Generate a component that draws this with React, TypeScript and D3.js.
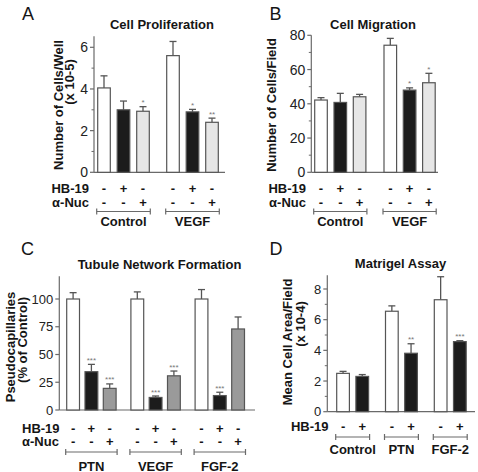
import React from "react";
import * as d3 from "d3";

// ---------- DATA ----------
const groupsAB = ["Control", "VEGF"];
const condsABC = ["none", "HB-19", "α-Nuc"];
const hb19Signs3 = ["-", "+", "-"];
const nucSigns3 = ["-", "-", "+"];

const prolifMean = [4.05, 3.0, 2.93, 5.6, 2.9, 2.4];
const prolifErr = [0.58, 0.42, 0.22, 0.68, 0.12, 0.2];
const prolifSig = ["", "", "*", "", "*", "**"];
const prolifTicks = [0, 2, 4, 6];
const prolifMinor = [1, 3, 5];

const migMean = [42.2, 40.8, 44.1, 74.2, 48.0, 52.3];
const migErr = [1.4, 5.3, 1.4, 4.0, 1.3, 5.5];
const migSig = ["", "", "", "", "*", "*"];
const migTicks = [0, 20, 40, 60, 80];
const migMinor = [10, 30, 50, 70];

const groupsC = ["PTN", "VEGF", "FGF-2"];
const tubMean = [100, 34.5, 19.5, 100, 11.3, 30.8, 100, 13.0, 73.0];
const tubErr = [5.7, 6.6, 4.0, 6.4, 1.3, 4.3, 8.5, 3.0, 10.8];
const tubSig = ["", "***", "***", "", "***", "***", "", "***", ""];
const tubTicks = [0, 25, 50, 75, 100];
const tubMinor: number[] = [];

const groupsD = ["Control", "PTN", "FGF-2"];
const condsD = ["none", "HB-19"];
const hb19Signs2 = ["-", "+"];
const matMean = [2.5, 2.3, 6.55, 3.81, 7.3, 4.57];
const matErr = [0.13, 0.12, 0.35, 0.62, 1.5, 0.06];
const matSig = ["", "", "", "**", "", "***"];
const matTicks = [0, 2, 4, 6, 8];
const matMinor = [1, 3, 5, 7];

// ---------- STYLE ----------
const FONT = "'Liberation Sans', Arial, Helvetica, sans-serif";
const INK = "#151515";
const AXIS = "#6a6a6a";
const fillsAB = ["#ffffff", "#1c1c1c", "#e6e6e6"];
const fillsC = ["#ffffff", "#1c1c1c", "#9a9a9a"];
const fillsD = ["#ffffff", "#1c1c1c"];

type Row = { label: string; signs: string[]; y: number; x: number; anchor: string };

type PanelProps = {
  letter: string; letterX: number; letterY: number;
  title: string; titleX: number; titleY: number;
  yTitles: { text: string; x: number; y: number }[];
  axisX: number; y0: number; yTop: number; yMax: number; yRef: number; yRefPx: number;
  ticks: number[]; minor: number[]; tickFont: number; baseEnd: number;
  groups: string[]; conds: string[]; means: number[]; errs: number[]; sigs: string[]; fills: string[];
  xStart: number; groupStep: number; barStep: number; barWidth: number;
  rows: Row[]; bracketY: number; groupLabelY: number;
};

function Panel(p: PanelProps) {
  const y = d3.scaleLinear().domain([0, p.yRef]).range([p.y0, p.yRefPx]);
  const nc = p.conds.length;
  const gw = (nc - 1) * p.barStep + p.barWidth;
  const outer = d3
    .scaleBand<string>()
    .domain(p.groups)
    .range([p.xStart, p.xStart + (p.groups.length - 1) * p.groupStep + gw])
    .paddingInner((p.groupStep - gw) / p.groupStep)
    .paddingOuter(0);
  const inner = d3
    .scaleBand<string>()
    .domain(p.conds)
    .range([0, gw])
    .paddingInner((p.barStep - p.barWidth) / p.barStep)
    .paddingOuter(0);
  const bw = inner.bandwidth();
  const barX = (i: number) => (outer(p.groups[Math.floor(i / nc)]) as number) + (inner(p.conds[i % nc]) as number);

  return (
    <g fontFamily={FONT}>
      <text x={p.letterX} y={p.letterY} fontSize={18} fill={INK}>{p.letter}</text>
      <text x={p.titleX} y={p.titleY} fontSize={13} fontWeight="bold" textAnchor="middle" fill={INK}>{p.title}</text>
      {p.yTitles.map((t, i) => (
        <text key={i} transform={`translate(${t.x},${t.y}) rotate(-90)`} textAnchor="middle" dominantBaseline="central"
          fontSize={13} fontWeight="bold" fill={INK}>{t.text}</text>
      ))}
      {/* axes */}
      <line x1={p.axisX} x2={p.axisX} y1={y(p.yMax)} y2={p.y0} stroke={AXIS} strokeWidth={1.2} />
      <line x1={p.axisX} x2={p.baseEnd} y1={p.y0} y2={p.y0} stroke={AXIS} strokeWidth={1.2} />
      {p.ticks.map((t) => (
        <g key={"t" + t}>
          <line x1={p.axisX - 4} x2={p.axisX} y1={y(t)} y2={y(t)} stroke={AXIS} strokeWidth={1.2} />
          <text x={p.axisX - 6} y={y(t)} textAnchor="end" dominantBaseline="central" fontSize={p.tickFont} fill="#222">{t}</text>
        </g>
      ))}
      {p.minor.map((t) => (
        <line key={"m" + t} x1={p.axisX - 2.5} x2={p.axisX} y1={y(t)} y2={y(t)} stroke={AXIS} strokeWidth={1} />
      ))}
      {/* bars */}
      {p.means.map((m, i) => {
        const x = barX(i);
        const cx = x + bw / 2;
        const top = y(m);
        const et = y(m + p.errs[i]);
        return (
          <g key={"b" + i}>
            <line x1={cx} x2={cx} y1={top} y2={et} stroke="#555" strokeWidth={1.3} />
            <line x1={cx - 3.5} x2={cx + 3.5} y1={et} y2={et} stroke="#555" strokeWidth={1.3} />
            <rect x={x} y={top} width={bw} height={p.y0 - top} fill={p.fills[i % nc]} stroke="#555" strokeWidth={1.2} />
            {p.sigs[i] && (
              <text x={cx} y={et - 1.5} textAnchor="middle" fontSize={8} fill="#777">{p.sigs[i]}</text>
            )}
          </g>
        );
      })}
      {/* condition rows */}
      {p.rows.map((r, ri) => (
        <g key={"r" + ri}>
          <text x={r.x} y={r.y} textAnchor={r.anchor as any} fontSize={13} fontWeight="bold" fill={INK}>{r.label}</text>
          {p.means.map((_, i) => (
            <text key={i} x={barX(i) + bw / 2} y={r.y} textAnchor="middle" fontSize={13} fontWeight="bold" fill={INK}>
              {r.signs[i % nc]}
            </text>
          ))}
        </g>
      ))}
      {/* brackets + group labels */}
      {p.groups.map((g) => {
        const x1 = (outer(g) as number) - 1;
        const x2 = (outer(g) as number) + outer.bandwidth() + 1;
        return (
          <g key={"g" + g}>
            <line x1={x1} x2={x2} y1={p.bracketY} y2={p.bracketY} stroke={AXIS} strokeWidth={1.2} />
            <line x1={x1} x2={x1} y1={p.bracketY - 3} y2={p.bracketY + 3} stroke={AXIS} strokeWidth={1.2} />
            <line x1={x2} x2={x2} y1={p.bracketY - 3} y2={p.bracketY + 3} stroke={AXIS} strokeWidth={1.2} />
            <text x={(x1 + x2) / 2} y={p.groupLabelY} textAnchor="middle" fontSize={13} fontWeight="bold" fill={INK}>{g}</text>
          </g>
        );
      })}
    </g>
  );
}

export default function App() {
  return (
    <svg width={478} height={472} style={{ position: "absolute", left: 0, top: 0, background: "#fff" }}>
      <rect width={478} height={472} fill="#fff" />
      <Panel
        letter="A" letterX={22} letterY={19.5}
        title="Cell Proliferation" titleX={162} titleY={29}
        yTitles={[{ text: "Number of Cells/Well", x: 58, y: 105 }, { text: "(x 10-5)", x: 69.5, y: 82 }]}
        axisX={94} y0={172.3} yRef={6} yRefPx={47.3} yTop={36} yMax={6.53}
        ticks={prolifTicks} minor={prolifMinor} tickFont={14} baseEnd={225}
        groups={groupsAB} conds={condsABC} means={prolifMean} errs={prolifErr} sigs={prolifSig} fills={fillsAB}
        xStart={97.7} groupStep={69} barStep={19.5} barWidth={12.6}
        rows={[
          { label: "HB-19", signs: hb19Signs3, y: 192.5, x: 89, anchor: "end" },
          { label: "α-Nuc", signs: nucSigns3, y: 207, x: 89, anchor: "end" },
        ]}
        bracketY={211.5} groupLabelY={226}
      />
      <Panel
        letter="B" letterX={269.5} letterY={19.5}
        title="Cell Migration" titleX={373} titleY={29}
        yTitles={[{ text: "Number of Cells/Field", x: 271, y: 105 }]}
        axisX={311.3} y0={172.3} yRef={80} yRefPx={35.3} yTop={35} yMax={80}
        ticks={migTicks} minor={migMinor} tickFont={14} baseEnd={438}
        groups={groupsAB} conds={condsABC} means={migMean} errs={migErr} sigs={migSig} fills={fillsAB}
        xStart={314.7} groupStep={69.3} barStep={19.3} barWidth={12.6}
        rows={[
          { label: "HB-19", signs: hb19Signs3, y: 192.5, x: 306, anchor: "end" },
          { label: "α-Nuc", signs: nucSigns3, y: 207, x: 306, anchor: "end" },
        ]}
        bracketY={211.5} groupLabelY={226}
      />
      <Panel
        letter="C" letterX={21} letterY={254.5}
        title="Tubule Network Formation" titleX={159.5} titleY={269}
        yTitles={[{ text: "Pseudocapillaries", x: 10, y: 347 }, { text: "(% of Control)", x: 22, y: 340 }]}
        axisX={59.3} y0={410} yRef={100} yRefPx={299} yTop={276} yMax={120.5}
        ticks={tubTicks} minor={tubMinor} tickFont={13} baseEnd={255}
        groups={groupsC} conds={condsABC} means={tubMean} errs={tubErr} sigs={tubSig} fills={fillsC}
        xStart={66.7} groupStep={64.2} barStep={18.3} barWidth={12.8}
        rows={[
          { label: "HB-19", signs: hb19Signs3, y: 432.5, x: 22, anchor: "start" },
          { label: "α-Nuc", signs: nucSigns3, y: 446, x: 22, anchor: "start" },
        ]}
        bracketY={452} groupLabelY={470.5}
      />
      <Panel
        letter="D" letterX={269.5} letterY={254.5}
        title="Matrigel Assay" titleX={400.5} titleY={268}
        yTitles={[{ text: "Mean Cell Area/Field", x: 287, y: 342 }, { text: "(x 10-4)", x: 300, y: 324 }]}
        axisX={327.3} y0={411.7} yRef={8} yRefPx={289} yTop={275} yMax={8.9}
        ticks={matTicks} minor={matMinor} tickFont={13} baseEnd={475}
        groups={groupsD} conds={condsD} means={matMean} errs={matErr} sigs={matSig} fills={fillsD}
        xStart={336.7} groupStep={48.8} barStep={19.2} barWidth={12.7}
        rows={[{ label: "HB-19", signs: hb19Signs2, y: 431, x: 328.5, anchor: "end" }]}
        bracketY={437} groupLabelY={454}
      />
    </svg>
  );
}
